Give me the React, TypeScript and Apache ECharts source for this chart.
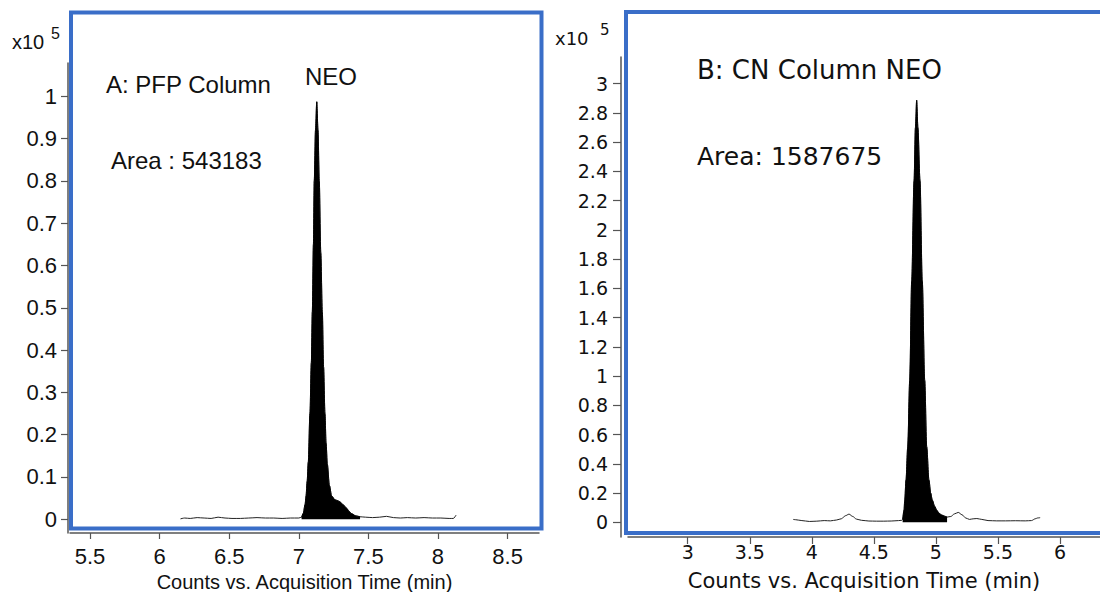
import React, { useEffect, useRef } from "react";
import * as echarts from "echarts";

// ---- Panel A (PFP column) ----
const LEFT_TIME = [6.15, 6.18, 6.22, 6.27, 6.32, 6.37, 6.42, 6.47, 6.52, 6.58, 6.64, 6.7, 6.76, 6.82, 6.88, 6.94, 7.0, 7.02, 7.032, 7.045, 7.052, 7.06, 7.068, 7.08, 7.09, 7.097, 7.105, 7.111, 7.12, 7.129, 7.138, 7.147, 7.158, 7.169, 7.178, 7.188, 7.196, 7.205, 7.22, 7.236, 7.26, 7.28, 7.296, 7.32, 7.344, 7.36, 7.38, 7.41, 7.44, 7.48, 7.53, 7.58, 7.63, 7.68, 7.73, 7.78, 7.84, 7.9, 7.96, 8.02, 8.08, 8.11, 8.13];
const LEFT_COUNTS = [0.001, 0.003, 0.002, 0.004, 0.003, 0.002, 0.005, 0.003, 0.002, 0.002, 0.003, 0.004, 0.003, 0.003, 0.002, 0.003, 0.003, 0.005, 0.014, 0.035, 0.055, 0.09, 0.135, 0.25, 0.37, 0.49, 0.65, 0.8, 0.92, 0.987, 0.92, 0.8, 0.63, 0.49, 0.36, 0.25, 0.18, 0.13, 0.08, 0.055, 0.046, 0.044, 0.041, 0.034, 0.026, 0.019, 0.013, 0.008, 0.006, 0.005, 0.004, 0.005, 0.007, 0.004, 0.003, 0.004, 0.003, 0.004, 0.003, 0.003, 0.002, 0.002, 0.01];
const LEFT_PEAK_RANGE = [7.02, 7.44];
const LEFT_X_TICKS = [5.5, 6, 6.5, 7, 7.5, 8, 8.5];
const LEFT_Y_TICKS = [0, 0.1, 0.2, 0.3, 0.4, 0.5, 0.6, 0.7, 0.8, 0.9, 1];

// ---- Panel B (CN column) ----
const RIGHT_TIME = [3.85, 3.87, 3.92, 3.98, 4.04, 4.1, 4.15, 4.2, 4.24, 4.27, 4.3, 4.33, 4.36, 4.4, 4.46, 4.52, 4.58, 4.64, 4.7, 4.725, 4.732, 4.743, 4.749, 4.759, 4.773, 4.789, 4.805, 4.824, 4.835, 4.845, 4.855, 4.872, 4.89, 4.91, 4.926, 4.944, 4.958, 4.971, 4.99, 5.006, 5.025, 5.047, 5.07, 5.09, 5.12, 5.15, 5.18, 5.21, 5.24, 5.27, 5.3, 5.33, 5.37, 5.42, 5.49, 5.56, 5.64, 5.72, 5.77, 5.8, 5.82, 5.84];
const RIGHT_COUNTS = [0.02, 0.018, 0.012, 0.006, 0.008, 0.012, 0.01, 0.016, 0.025, 0.045, 0.056, 0.04, 0.022, 0.014, 0.009, 0.008, 0.008, 0.009, 0.012, 0.014, 0.02, 0.084, 0.152, 0.289, 0.516, 0.971, 1.654, 2.337, 2.7, 2.887, 2.7, 2.337, 1.654, 0.971, 0.516, 0.289, 0.2, 0.152, 0.11, 0.084, 0.062, 0.05, 0.042, 0.036, 0.04, 0.058, 0.068, 0.052, 0.03, 0.02, 0.024, 0.026, 0.02, 0.012, 0.01, 0.01, 0.011, 0.01, 0.012, 0.024, 0.03, 0.032];
const RIGHT_PEAK_RANGE = [4.732, 5.09];
const RIGHT_X_TICKS = [3, 3.5, 4, 4.5, 5, 5.5, 6];
const RIGHT_Y_TICKS = [0, 0.2, 0.4, 0.6, 0.8, 1, 1.2, 1.4, 1.6, 1.8, 2, 2.2, 2.4, 2.6, 2.8, 3];

const AXIS_TITLE = "Counts vs. Acquisition Time (min)";
const BLUE = "#3A6EC8";
const AXIS_COLOR = "#555";
const FONT_L = "Liberation Sans, Arial, sans-serif";
const FONT_LN = "Liberation Sans Narrow, Arial Narrow, Liberation Sans, sans-serif";
const FONT_R = "DejaVu Sans, Verdana, sans-serif";

function pairs(t: number[], v: number[]) {
  return t.map((x, i) => [x, v[i]]);
}
function slice(t: number[], v: number[], r: number[]) {
  return pairs(t, v).filter((p) => p[0] >= r[0] - 1e-9 && p[0] <= r[1] + 1e-9);
}

function txt(text: string, x: number, y: number, size: number, family: string) {
  return {
    type: "text",
    x,
    y,
    style: {
      text,
      fill: "#111",
      fontSize: size,
      fontFamily: family,
      textAlign: "left",
      textVerticalAlign: "middle",
      align: "left",
      verticalAlign: "middle",
    },
  };
}

function xAxisDef(grid: number, min: number, max: number, ticks: number[], font: string, size: number, margin: number, tickLen: number, nameSize: number, nameGap: number) {
  return {
    type: "value",
    gridIndex: grid,
    position: "bottom",
    min,
    max,
    axisLine: { show: true, onZero: false, lineStyle: { color: AXIS_COLOR, width: 1.5 } },
    axisTick: { show: true, length: tickLen, customValues: ticks, lineStyle: { color: AXIS_COLOR, width: 1.2 } },
    splitLine: { show: false },
    axisLabel: { color: "#111", fontSize: size, fontFamily: font, margin, customValues: ticks },
    name: AXIS_TITLE,
    nameLocation: "middle",
    nameGap,
    nameTextStyle: { color: "#111", fontFamily: font === FONT_LN ? FONT_L : font, fontSize: nameSize },
  };
}
function yAxisDef(grid: number, min: number, max: number, ticks: number[], font: string, size: number, margin: number, tickLen: number, offset: number) {
  return {
    type: "value",
    gridIndex: grid,
    position: "left",
    offset,
    min,
    max,
    axisLine: { show: true, onZero: false, lineStyle: { color: AXIS_COLOR, width: 1.5 } },
    axisTick: { show: true, length: tickLen, customValues: ticks, lineStyle: { color: AXIS_COLOR, width: 1.2 } },
    splitLine: { show: false },
    axisLabel: { color: "#111", fontSize: size, fontFamily: font, margin, customValues: ticks },
  };
}

export default function App() {
  const ref = useRef<HTMLDivElement>(null);
  useEffect(() => {
    if (!ref.current) return;
    const chart = echarts.init(ref.current, null, { renderer: "svg" });

    const lineSeries = (xi: number, data: number[][]) => ({
      type: "line",
      xAxisIndex: xi,
      yAxisIndex: xi,
      data,
      symbol: "none",
      smooth: 0.3,
      smoothMonotone: "x",
      lineStyle: { color: "#222", width: 1 },
      z: 3,
    });
    const fillSeries = (xi: number, data: number[][]) => ({
      type: "line",
      xAxisIndex: xi,
      yAxisIndex: xi,
      data,
      symbol: "none",
      smooth: 0.3,
      smoothMonotone: "x",
      lineStyle: { color: "#000", width: 0.8 },
      areaStyle: { color: "#000", opacity: 1 },
      z: 4,
    });

    chart.setOption({
      animation: false,
      backgroundColor: "#fff",
      grid: [
        { left: 70, right: 561, top: 63, bottom: 59, containLabel: false, outerBoundsMode: "none" },
        { left: 628, right: 0, top: 57, bottom: 55, containLabel: false, outerBoundsMode: "none" },
      ],
      xAxis: [
        xAxisDef(0, 5.3563, 8.7256, LEFT_X_TICKS, FONT_LN, 22, 12, 6, 20, 36),
        xAxisDef(1, 2.5189, 6.3223, RIGHT_X_TICKS, FONT_R, 19, 5, 7, 21, 33),
      ],
      yAxis: [
        yAxisDef(0, -0.0324, 1.0787, LEFT_Y_TICKS, FONT_LN, 22, 11, 7, 2),
        yAxisDef(1, -0.1003, 3.1829, RIGHT_Y_TICKS, FONT_R, 19, 13, 8, 7),
      ],
      series: [
        lineSeries(0, pairs(LEFT_TIME, LEFT_COUNTS)),
        fillSeries(0, slice(LEFT_TIME, LEFT_COUNTS, LEFT_PEAK_RANGE)),
        lineSeries(1, pairs(RIGHT_TIME, RIGHT_COUNTS)),
        fillSeries(1, slice(RIGHT_TIME, RIGHT_COUNTS, RIGHT_PEAK_RANGE)),
      ],
      graphic: [
        {
          type: "rect",
          shape: { x: 71, y: 12.5, width: 470.5, height: 516 },
          style: { fill: "none", stroke: BLUE, lineWidth: 4 },
          z: 10,
        },
        {
          type: "rect",
          shape: { x: 626, y: 12, width: 520, height: 521 },
          style: { fill: "none", stroke: BLUE, lineWidth: 4 },
          z: 10,
        },
        txt("x10", 12, 42, 20, FONT_L),
        txt("5", 51, 33, 16, FONT_L),
        txt("A: PFP Column", 106, 84, 24, FONT_LN),
        txt("NEO", 305, 76, 24, FONT_LN),
        txt("Area : 543183", 111, 160, 24, FONT_LN),
        txt("x10", 555, 38, 18, FONT_R),
        txt("5", 600, 30, 15, FONT_R),
        txt("B: CN Column NEO", 697, 70, 26, FONT_R),
        txt("Area: 1587675", 697, 156, 25, FONT_R),
      ],
    });
    return () => chart.dispose();
  }, []);
  return (
    <div
      ref={ref}
      style={{ position: "fixed", left: 0, top: 0, width: 1100, height: 592, background: "#fff" }}
    />
  );
}
